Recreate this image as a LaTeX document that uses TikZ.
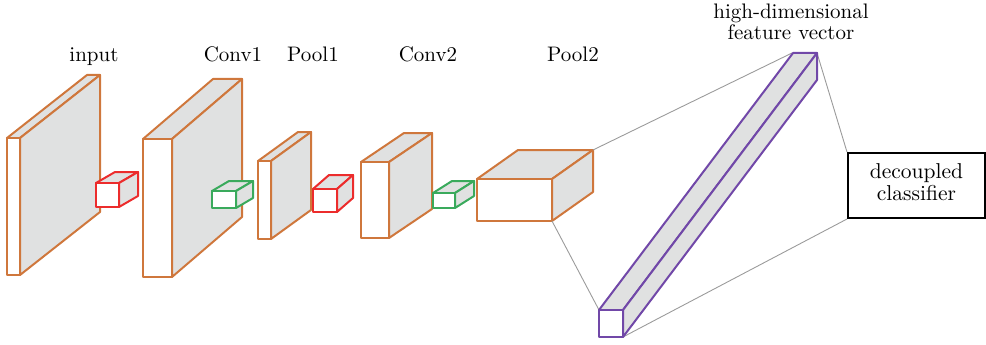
\documentclass[tikz,border=0pt]{standalone}
\usepackage{graphicx}

\definecolor{slabC}{RGB}{207,119,60}
\definecolor{poolC}{RGB}{236,44,44}
\definecolor{convC}{RGB}{58,170,92}
\definecolor{vecC}{RGB}{113,72,168}
\definecolor{faceC}{RGB}{224,225,225}
\definecolor{linkC}{RGB}{155,155,155}

\tikzset{
  edgeline/.style={line width=2pt, line join=round},
  label text/.style={scale=2.1, transform shape, inner sep=0pt,
                     font=\fontsize{10}{10}\selectfont},
  link/.style={draw=linkC, line width=0.9pt},
}

% \cuboid{name}{x left}{y top}{width}{height}{dx}{dy}{colour}
% front face is the axis-aligned rectangle, (dx,dy) shifts it to the back face
\newcommand{\cuboid}[8]{%
  \coordinate (#1-ftl) at (#2,#3);
  \coordinate (#1-ftr) at (#2+#4,#3);
  \coordinate (#1-fbr) at (#2+#4,#3+#5);
  \coordinate (#1-fbl) at (#2,#3+#5);
  \coordinate (#1-btl) at (#2+#6,#3+#7);
  \coordinate (#1-btr) at (#2+#4+#6,#3+#7);
  \coordinate (#1-bbr) at (#2+#4+#6,#3+#5+#7);
  \filldraw[edgeline, draw=#8, fill=faceC]
    (#1-ftl) -- (#1-btl) -- (#1-btr) -- (#1-ftr) -- cycle;
  \filldraw[edgeline, draw=#8, fill=faceC]
    (#1-ftr) -- (#1-btr) -- (#1-bbr) -- (#1-fbr) -- cycle;
  \filldraw[edgeline, draw=#8, fill=white]
    (#1-ftl) rectangle (#1-fbr);
}

\begin{document}
\begin{tikzpicture}[x=1pt, y=-1pt]
  \useasboundingbox (0,0) rectangle (986,345);

  % feature maps and the kernels between them
  \cuboid{input}{7}{138}{13}{137}{80}{-63}{slabC}
  \cuboid{k1}{96}{183}{23}{24}{19}{-11}{poolC}
  \cuboid{conv1}{143}{139}{29}{138}{70}{-60}{slabC}
  \cuboid{k2}{212}{191}{24}{17}{17}{-10}{convC}
  \cuboid{pool1}{258}{161}{13}{78}{40}{-29}{slabC}
  \cuboid{k3}{313}{189}{24}{23}{16}{-14}{poolC}
  \cuboid{conv2}{361}{162}{28}{76}{43}{-29}{slabC}
  \cuboid{k4}{433}{193}{22}{15}{19}{-12}{convC}
  \cuboid{pool2}{477}{179}{75}{42}{41}{-29}{slabC}

  % classifier box
  \node[draw=black, line width=2pt, minimum width=137pt, minimum height=65pt,
        inner sep=0pt]
    (cls) at (916.5,185.5)
    {\scalebox{2.15}{\fontsize{10}{10.2}\selectfont
      \begin{tabular}{@{}c@{}}decoupled\\classifier\end{tabular}}};

  % projection lines from Pool2 to the feature vector, and on to the classifier
  \coordinate (v-btl) at (792,53);
  \coordinate (v-ftl) at (599,310);
  \coordinate (v-btr) at (817,53);
  \coordinate (v-fbr) at (623,337);
  \draw[link] (pool2-btr) -- (v-btl);
  \draw[link] (pool2-fbr) -- (v-ftl);
  \draw[link] (v-btr) -- (cls.north west);
  \draw[link] (v-fbr) -- (cls.south west);

  % flattened feature vector
  \cuboid{vec}{599}{310}{24}{27}{194}{-257}{vecC}

  % layer captions
  \node[label text, anchor=base] (t-input) at (94,62) {input};
  \node[label text, anchor=base] (t-conv1) at (233,62) {Conv1};
  \node[label text, anchor=base] (t-pool1) at (313,62) {Pool1};
  \node[label text, anchor=base] (t-conv2) at (428,62) {Conv2};
  \node[label text, anchor=base] (t-pool2) at (573,62) {Pool2};
  \node[label text, anchor=north, align=center] (t-vec) at (791,3.5)
    {high-dimensional\\feature vector};
\end{tikzpicture}
\end{document}
